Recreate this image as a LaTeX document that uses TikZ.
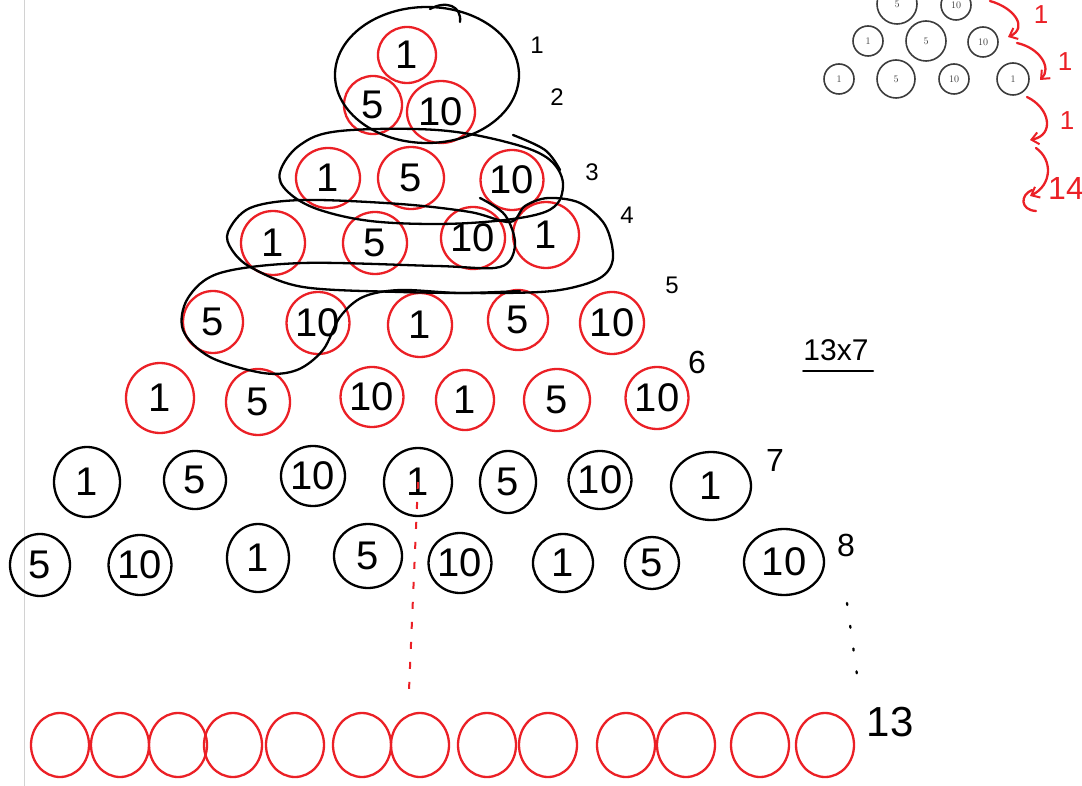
\documentclass[tikz,border=0pt]{standalone}
\usepackage{fontspec}
\newfontfamily\hand{Liberation Sans}
\usetikzlibrary{shapes.geometric,arrows.meta}
\definecolor{pen}{RGB}{235,32,38}
\definecolor{scan}{RGB}{60,60,60}
\tikzset{
  ink/.style={line width=2.3pt, line cap=round, line join=round},
  rc/.style={ellipse, draw=pen, ink, inner sep=0pt, minimum width=62pt, minimum height=62pt,
             font=\hand\fontsize{40}{40}\selectfont, text=black},
  bc/.style={rc, draw=black},
  oval/.style={ellipse, draw=pen, ink, inner sep=0pt, minimum width=58pt, minimum height=64pt},
  lab/.style={font=\hand\fontsize{24}{24}\selectfont, text=black},
  biglab/.style={font=\hand\fontsize{32}{32}\selectfont, text=black},
  ic/.style={circle, draw=scan, line width=1.6pt, inner sep=0pt, minimum size=30pt,
             font=\fontsize{10}{10}\selectfont, text=scan},
  icb/.style={ic, minimum size=40pt},
  redlab/.style={font=\hand\fontsize{26}{26}\selectfont, text=pen},
  redarrow/.style={draw=pen, ink, -{Straight Barb[length=7pt,width=12pt,line width=2pt]}},
  group/.style={draw=black, ink},
}
\begin{document}
\begin{tikzpicture}[x=1pt,y=-1pt]
\useasboundingbox (0,0) rectangle (1082,786);
% margin line
\draw[gray!35, line width=1.5pt] (24.5,0) -- (24.5,786);

% red coin rows
\node[rc, minimum width=58pt, minimum height=56pt] (r1a) at (407,55) {1};
\node[rc, minimum width=58pt, minimum height=58pt] (r2a) at (373,105) {5};
\node[rc, minimum width=68pt, minimum height=62pt] (r2b) at (441,112) {10};
\node[rc, minimum width=64pt, minimum height=60pt] (r3a) at (328,178) {1};
\node[rc, minimum width=66pt, minimum height=62pt] (r3b) at (411,178) {5};
\node[rc, minimum width=62pt, minimum height=60pt] (r3c) at (512,180) {10};
\node[rc, minimum width=64pt, minimum height=64pt] (r4a) at (273,243) {1};
\node[rc, minimum width=64pt, minimum height=62pt] (r4b) at (375,243) {5};
\node[rc, minimum width=64pt, minimum height=62pt] (r4c) at (473,238) {10};
\node[rc, minimum width=66pt, minimum height=66pt] (r4d) at (546,235) {1};
\node[rc, minimum width=60pt, minimum height=62pt] (r5a) at (213,322) {5};
\node[rc, minimum width=62pt, minimum height=62pt] (r5b) at (318,323) {10};
\node[rc, minimum width=64pt, minimum height=64pt] (r5c) at (420,325) {1};
\node[rc, minimum width=60pt, minimum height=60pt] (r5d) at (518,320) {5};
\node[rc, minimum width=64pt, minimum height=62pt] (r5e) at (612,323) {10};
\node[rc, minimum width=68pt, minimum height=70pt] (r6a) at (160,398) {1};
\node[rc, minimum width=64pt, minimum height=66pt] (r6b) at (258,402) {5};
\node[rc, minimum width=62pt, minimum height=60pt] (r6c) at (372,397) {10};
\node[rc, minimum width=58pt, minimum height=60pt] (r6d) at (465,400) {1};
\node[rc, minimum width=66pt, minimum height=62pt] (r6e) at (557,400) {5};
\node[rc, minimum width=62pt, minimum height=62pt] (r6f) at (657,398) {10};

% black coin rows
\node[bc, minimum width=66pt, minimum height=70pt] (b7a) at (87,482) {1};
\node[bc, minimum width=62pt, minimum height=58pt] (b7b) at (195,480) {5};
\node[bc, minimum width=64pt, minimum height=60pt] (b7c) at (313,476) {10};
\node[bc, minimum width=68pt, minimum height=68pt] (b7d) at (418,482) {1};
\node[bc, minimum width=56pt, minimum height=62pt] (b7e) at (508,482) {5};
\node[bc, minimum width=62pt, minimum height=58pt] (b7f) at (600,480) {10};
\node[bc, minimum width=80pt, minimum height=68pt] (b7g) at (711,486) {1};
\node[bc, minimum width=60pt, minimum height=62pt] (b8a) at (40,565) {5};
\node[bc, minimum width=60pt, minimum height=60pt] (b8b) at (140,565) {10};
\node[bc, minimum width=62pt, minimum height=68pt] (b8c) at (258,558) {1};
\node[bc, minimum width=68pt, minimum height=64pt] (b8d) at (368,556) {5};
\node[bc, minimum width=60pt, minimum height=60pt] (b8e) at (460,563) {10};
\node[bc, minimum width=60pt, minimum height=58pt] (b8f) at (563,563) {1};
\node[bc, minimum width=54pt, minimum height=52pt] (b8g) at (652,563) {5};
\node[bc, minimum width=80pt, minimum height=66pt] (b8h) at (784,562) {10};

% bottom row of empty red ovals
\foreach \i/\x in {1/60,2/120,3/178,4/233,5/295,6/362,7/420,8/487,9/548,10/626,11/686,12/760,13/825}
  \node[oval] (o\i) at (\x,745) {};

% row labels
\node[lab] (l1) at (537,45) {1};
\node[lab] (l2) at (557,97) {2};
\node[lab] (l3) at (592,172) {3};
\node[lab] (l4) at (627,215) {4};
\node[lab] (l5) at (672,285) {5};
\node[biglab] (l6) at (697,362) {6};
\node[biglab] (l7) at (775,460) {7};
\node[biglab] (l8) at (846,545) {8};
\node[font=\hand\fontsize{42}{42}\selectfont] (l13) at (890,722) {13};

% 13x7 note
\node[font=\hand\fontsize{30}{30}\selectfont] (calc) at (836,350) {13x7};
\coordinate (u0) at (803,371);
\coordinate (u1) at (873,371);
\draw[black, line width=2pt, line cap=round] (u0) -- (u1);

% dashed red guide and dotted continuation
\draw[pen, line width=2pt, dash pattern=on 7pt off 13pt] (b7d.center) -- (409,690);
\coordinate (dt0) at (847,603);
\coordinate (dt1) at (858,682);
\draw[black, line width=2.3pt, line cap=round, dash pattern=on 2pt off 21pt] (dt0) -- (dt1);

% group outlines
\draw[group] (427,75) ellipse [x radius=92, y radius=68];
\draw[group] (430,9) .. controls (446,0) and (462,6) .. (460,22);
\draw[group] plot[smooth cycle, tension=0.6] coordinates {(280,172) (300,145) (340,131) (437,130) (510,143) (550,160) (563,187) (545,212) (470,223) (380,222) (320,210) (288,192)};
\draw[group] plot[smooth, tension=0.6] coordinates {(513,135) (545,150) (560,170)};
\draw[group] plot[smooth cycle, tension=0.55] coordinates {(228,232) (250,208) (303,200) (400,204) (470,212) (510,222) (525,206) (548,198) (580,203) (605,225) (613,258) (600,278) (560,290) (503,293) (400,292) (303,287) (252,268) (232,250)};
\draw[group] plot[smooth, tension=0.55] coordinates {(480,198) (505,215) (515,245) (500,267) (437,266) (303,263) (220,273) (188,298) (183,330) (210,357) (263,373) (297,370) (323,350) (340,317) (363,297) (400,290) (460,293) (520,291)};

% inset (printed picture)
\node[icb] (i1) at (897,4) {5};
\node[ic] (i2) at (956,5) {10};
\node[ic] (i3) at (868,41) {1};
\node[icb] (i4) at (926,41) {5};
\node[ic] (i5) at (983,42) {10};
\node[ic] (i6) at (839,79) {1};
\node[icb, minimum size=38pt] (i7) at (896,79) {5};
\node[ic] (i8) at (954,79) {10};
\node[ic, minimum size=32pt] (i9) at (1013,79) {1};

% red arrows counting
\coordinate (a0) at (990,1);
\coordinate (a1) at (1008,37);
\coordinate (a2) at (1017,43);
\coordinate (a3) at (1040,80);
\coordinate (a4) at (1027,97);
\coordinate (a5) at (1030,140);
\coordinate (a6) at (1036,148);
\coordinate (a7) at (1030,196);
\draw[redarrow] (a0) .. controls (1015,8) and (1028,28) .. (a1);
\draw[redarrow] (a2) .. controls (1040,48) and (1052,68) .. (a3);
\draw[redarrow] (a4) .. controls (1050,108) and (1055,135) .. (a5);
\draw[redarrow] (a6) .. controls (1053,160) and (1052,185) .. (a7);
\draw[pen, ink] (1032,190) .. controls (1020,195) and (1020,210) .. (1036,211);
\node[redlab] (n1) at (1041,15) {1};
\node[redlab] (n2) at (1065,62) {1};
\node[redlab] (n3) at (1067,121) {1};
\node[font=\hand\fontsize{32}{32}\selectfont, text=pen] (n4) at (1066,188) {14};
\end{tikzpicture}
\end{document}
